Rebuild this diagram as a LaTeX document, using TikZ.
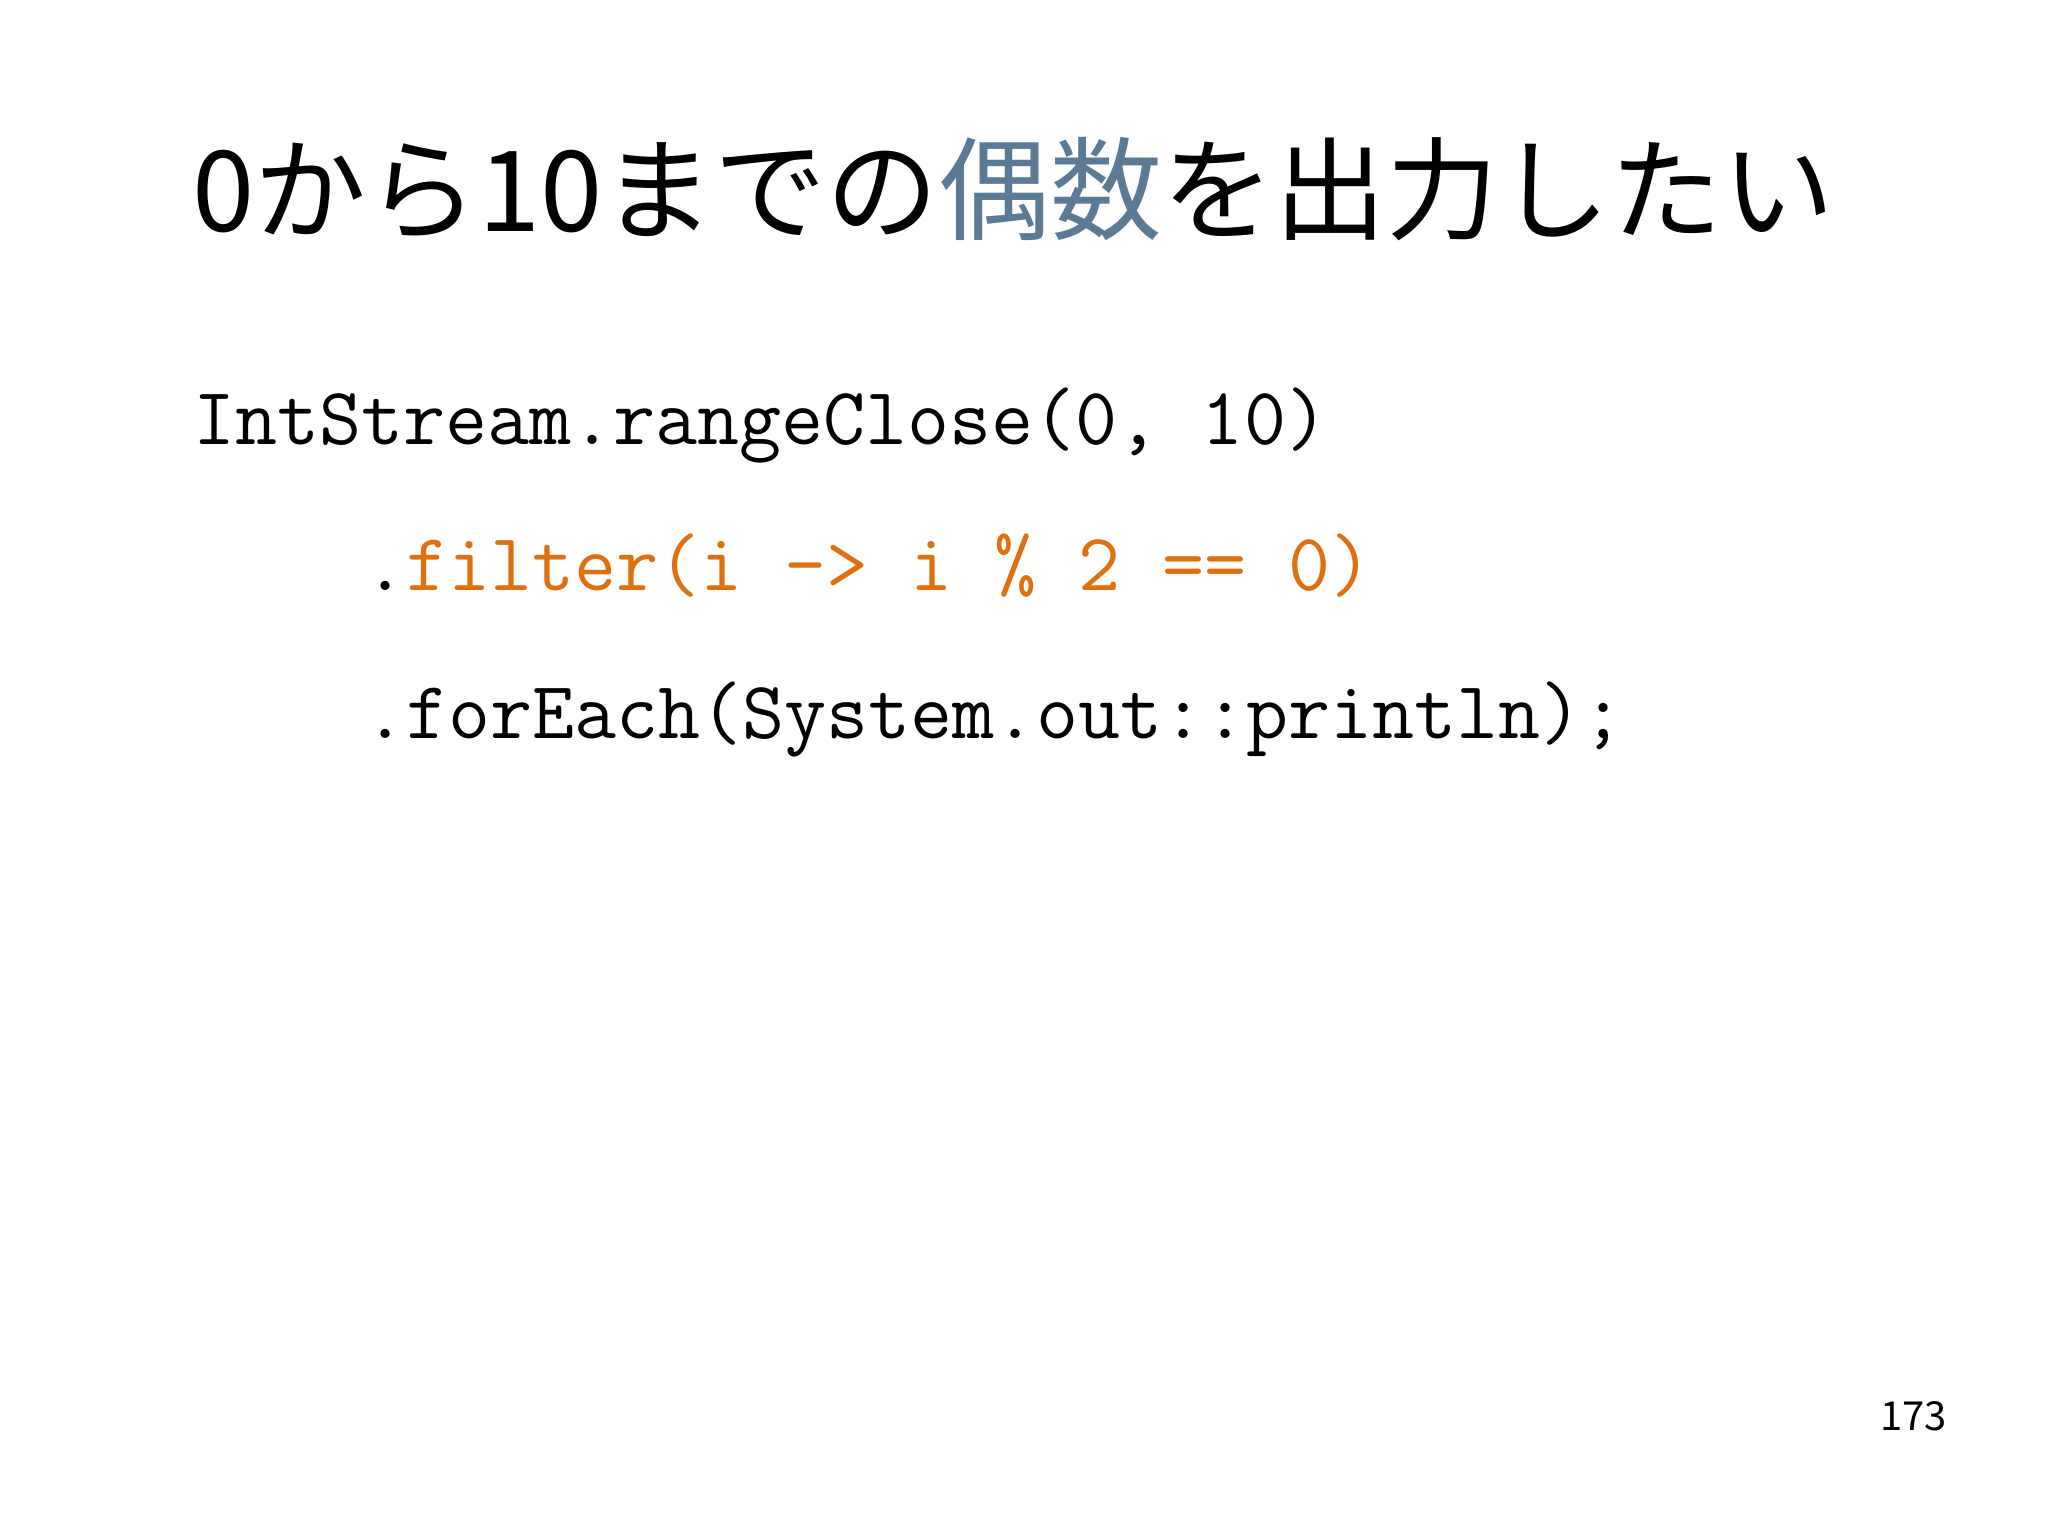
\documentclass[tikz,border=0pt]{standalone}
\usepackage{fontspec}
\setmonofont{Latin Modern Mono}
\newfontfamily\cjk{Noto Sans CJK JP}
\definecolor{codeorange}{HTML}{E0700F}
\definecolor{titleblue}{HTML}{5A7A95}
\tikzset{txt/.style={anchor=base west,inner sep=0pt,outer sep=0pt},
code/.style={txt,font=\ttfamily\fontsize{40.8}{48}\selectfont}}
\begin{document}
\begin{tikzpicture}[x=1pt,y=1pt]
\fill[white] (0,0) rectangle (1024,-767.5);
\useasboundingbox (0,0) rectangle (1024,-767.5);
\node[txt,font=\cjk\fontsize{56}{60}\selectfont] (title) at (96,-116) {0から10までの\textcolor{titleblue}{偶数}を出力したい};
\node[code] (l1) at (96.7,-222) {IntStream.rangeClose(0, 10)};
\node[code] (l2) at (182,-295) {.\textcolor{codeorange}{filter(i -> i \% 2 == 0)}};
\node[code] (l3) at (182,-369) {.forEach(System.out::println);};
\node[txt,font=\cjk\fontsize{20}{24}\selectfont] (pg) at (940,-715) {173};
\end{tikzpicture}
\end{document}
